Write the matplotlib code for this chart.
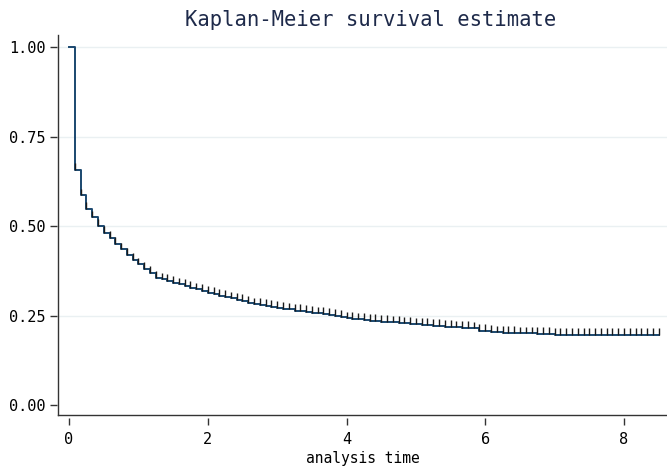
import numpy as np
import matplotlib
matplotlib.use("Agg")
import matplotlib.pyplot as plt

plt.rcParams.update({
    "font.family": ["DejaVu Sans Mono"],
    "font.size": 10,
})

# survival estimate, one value per month (time in years)
months = np.arange(103)
survival = [
    1.000, 0.656, 0.586, 0.549, 0.524, 0.500, 0.482, 0.466, 0.450, 0.435,
    0.420, 0.406, 0.393, 0.381, 0.369, 0.356, 0.351, 0.346, 0.341, 0.337,
    0.332, 0.328, 0.323, 0.319, 0.314, 0.310, 0.306, 0.302, 0.298, 0.294,
    0.290, 0.285, 0.281, 0.279, 0.276, 0.274, 0.271, 0.269, 0.267, 0.264,
    0.262, 0.260, 0.258, 0.256, 0.254, 0.252, 0.249, 0.247, 0.242, 0.240,
    0.239, 0.237, 0.236, 0.235, 0.233, 0.232, 0.231, 0.229, 0.228, 0.227,
    0.225, 0.224, 0.223, 0.222, 0.220, 0.219, 0.218, 0.217, 0.216, 0.215,
    0.214, 0.208, 0.207, 0.205, 0.203, 0.202, 0.202, 0.201, 0.200, 0.200,
    0.200, 0.199, 0.198, 0.198, 0.197, 0.197, 0.196, 0.196, 0.196, 0.196,
    0.196, 0.196, 0.196, 0.196, 0.196, 0.196, 0.196, 0.196, 0.196, 0.196,
    0.196, 0.196, 0.196,
]
x_ticks = [0, 2, 4, 6, 8]
y_ticks = [0.00, 0.25, 0.50, 0.75, 1.00]

t = months / 12.0
s = np.array(survival)

LINE = "#1a476f"
TITLE = "#1e2a4a"
AXIS = "#333333"
GRID = "#eaf0f2"

fig = plt.figure(figsize=(6.67, 4.66), dpi=100)
ax = fig.add_axes([0.087, 0.1094, 0.913, 0.8155])

y_lo, y_hi = -0.028, 1.034
x_lo, x_hi = -0.159, 8.62
ax.set_xlim(x_lo, x_hi)
ax.set_ylim(y_lo, y_hi)

for yv in y_ticks[1:]:
    ax.axhline(yv, color=GRID, lw=1.0, zorder=0)

ax.step(t, s, where="post", color=LINE, lw=1.4, zorder=3)

# censoring marks, drawn on top of the curve like Stata does
tick_h = 0.019
ax.vlines(t[1:], s[1:], s[1:] + tick_h, color="#1a1a1a", lw=1.0, zorder=4)

ax.set_xticks(x_ticks)
ax.set_xticklabels([str(v) for v in x_ticks])
ax.set_yticks(y_ticks)
ax.set_yticklabels([f"{v:.2f}" for v in y_ticks])

for side in ("top", "right"):
    ax.spines[side].set_visible(False)
# Stata-style: ticks sit a little away from the axis lines
ax.spines["bottom"].set_position(("outward", 2))
ax.spines["left"].set_position(("outward", 1))
ax.spines["bottom"].set_visible(False)
ax.spines["left"].set_visible(False)
ax.plot([x_lo, x_hi], [y_lo, y_lo], color=AXIS, lw=1.0, clip_on=False, zorder=5)
ax.plot([x_lo, x_lo], [y_lo, y_hi], color=AXIS, lw=1.0, clip_on=False, zorder=5)

ax.tick_params(axis="both", direction="out", length=5, width=1.0,
               color=AXIS, labelcolor="black", labelsize=11)
ax.tick_params(axis="x", pad=5)
ax.tick_params(axis="y", pad=3)

ax.set_xlabel("analysis time", fontsize=10.5, labelpad=3)
fig.text(0.555, 0.957, "Kaplan-Meier survival estimate", ha="center",
         va="center", fontsize=14.8, color=TITLE)

fig.savefig("out.png", dpi=100)
